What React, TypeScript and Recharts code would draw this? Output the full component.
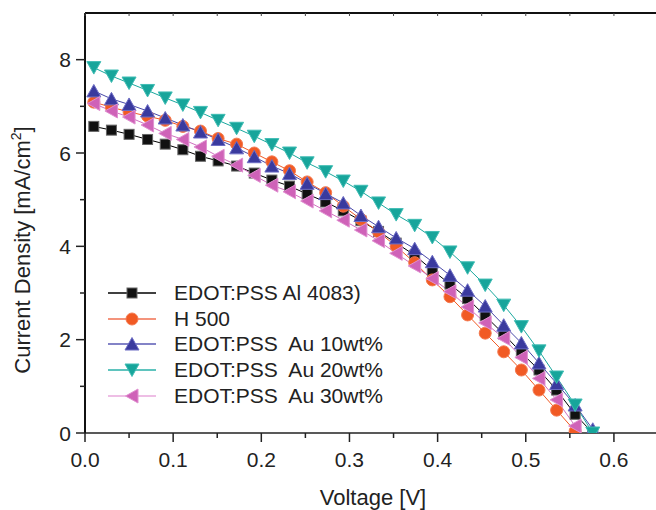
import React from "react";
import { LineChart, Line, XAxis, YAxis, Legend } from "recharts";

// voltage steps (V)
const voltage = [
  0.01, 0.03, 0.05, 0.071, 0.091, 0.111, 0.131, 0.151, 0.172, 0.192, 0.212,
  0.232, 0.252, 0.273, 0.293, 0.313, 0.333, 0.353, 0.374, 0.394, 0.414, 0.434,
  0.454, 0.475, 0.495, 0.515, 0.535, 0.556, 0.576,
];

// current density (mA/cm2) for each device
const al4083 = [
  6.57, 6.49, 6.4, 6.29, 6.19, 6.07, 5.93, 5.83, 5.72, 5.57, 5.42, 5.29, 5.12,
  4.95, 4.76, 4.55, 4.32, 4.07, 3.81, 3.49, 3.19, 2.88, 2.51, 2.12, 1.72, 1.35,
  0.92, 0.4, 0.0,
];
const h500 = [
  7.09, 6.98, 6.88, 6.79, 6.7, 6.57, 6.47, 6.31, 6.19, 6.0, 5.81, 5.62, 5.38,
  5.15, 4.86, 4.58, 4.31, 4.0, 3.65, 3.28, 2.92, 2.53, 2.14, 1.74, 1.35, 0.92,
  0.49, 0.04,
];
const au10 = [
  7.33, 7.16, 7.04, 6.9, 6.75, 6.6, 6.45, 6.29, 6.11, 5.92, 5.72, 5.56, 5.35,
  5.13, 4.93, 4.66, 4.42, 4.18, 3.95, 3.67, 3.38, 3.06, 2.72, 2.31, 1.93, 1.5,
  1.06, 0.6, 0.08,
];
const au20 = [
  7.83, 7.65, 7.5, 7.34, 7.18, 7.03, 6.87, 6.7, 6.53, 6.36, 6.18, 6.0, 5.79,
  5.6, 5.4, 5.18, 4.93, 4.68, 4.45, 4.19, 3.88, 3.54, 3.17, 2.74, 2.28, 1.76,
  1.2, 0.6, 0.0,
];
const au30 = [
  7.06, 6.9, 6.77, 6.6, 6.42, 6.29, 6.13, 5.93, 5.74, 5.52, 5.31, 5.17, 4.97,
  4.76, 4.56, 4.35, 4.12, 3.85, 3.58, 3.31, 3.03, 2.7, 2.36, 2.03, 1.62, 1.17,
  0.71, 0.15,
];

const seriesNames = [
  "EDOT:PSS Al 4083)",
  "H 500",
  "EDOT:PSS  Au 10wt%",
  "EDOT:PSS  Au 20wt%",
  "EDOT:PSS  Au 30wt%",
];

const xTicks = [0, 0.05, 0.1, 0.15, 0.2, 0.25, 0.3, 0.35, 0.4, 0.45, 0.5, 0.55, 0.6];
const yTicks = [0, 1, 2, 3, 4, 5, 6, 7, 8];

const data = voltage.map((v, i) => ({
  v,
  s0: al4083[i],
  s1: h500[i],
  s2: au10[i],
  s3: au20[i],
  s4: au30[i],
}));

const FONT = "'Liberation Sans', Arial, Helvetica, sans-serif";

const STYLES = [
  { key: "s0", shape: "square", fill: "#111", stroke: "#666", line: "#000", legendLine: "#000" },
  { key: "s1", shape: "circle", fill: "#f15a24", stroke: "#f47a50", line: "#f15a24", legendLine: "#f07050" },
  { key: "s2", shape: "up", fill: "#3a3a9e", stroke: "#6c6cc4", line: "#4848a8", legendLine: "#5a5ab4" },
  { key: "s3", shape: "down", fill: "#17a59b", stroke: "#40bdb4", line: "#1aa89e", legendLine: "#2ab0a8" },
  { key: "s4", shape: "left", fill: "#cf62b8", stroke: "#e090d0", line: "#d070c0", legendLine: "#e8a8dc" },
];

function Marker({ shape, cx, cy, fill, stroke }: any) {
  if (shape === "square") {
    return <rect x={cx - 5} y={cy - 5} width={10} height={10} fill={fill} stroke={stroke} strokeWidth={1} />;
  }
  if (shape === "circle") {
    return <circle cx={cx} cy={cy} r={6} fill={fill} stroke={stroke} strokeWidth={1} />;
  }
  let pts = "";
  if (shape === "up") pts = `${cx},${cy - 6.5} ${cx + 7},${cy + 6} ${cx - 7},${cy + 6}`;
  if (shape === "down") pts = `${cx - 7},${cy - 6} ${cx + 7},${cy - 6} ${cx},${cy + 6.5}`;
  if (shape === "left") pts = `${cx - 6.5},${cy} ${cx + 6},${cy - 7} ${cx + 6},${cy + 7}`;
  return <polygon points={pts} fill={fill} stroke={stroke} strokeWidth={1} />;
}

const makeDot = (st: any) => (props: any) => {
  const { cx, cy, index, value } = props;
  if (cx == null || cy == null || value == null) return <g key={`d-${st.key}-${index}`} />;
  return (
    <g key={`d-${st.key}-${index}`}>
      <Marker shape={st.shape} cx={cx} cy={cy} fill={st.fill} stroke={st.stroke} />
    </g>
  );
};

const XTick = (props: any) => {
  const { x, y, payload } = props;
  const v = payload.value;
  const major = Math.round(v * 100) % 10 === 0;
  return (
    <g>
      <line x1={x} x2={x} y1={y} y2={y + (major ? 9 : 5)} stroke="#222" strokeWidth={1.5} />
      {major && (
        <text x={x} y={y + 34} textAnchor="middle" fontSize={21} fontFamily={FONT} fill="#222">
          {v.toFixed(1)}
        </text>
      )}
    </g>
  );
};

const TopTick = (props: any) => {
  const { x, y } = props;
  return <line x1={x} x2={x} y1={y} y2={y + 3} stroke="#444" strokeWidth={1} />;
};

const YTick = (props: any) => {
  const { x, y, payload } = props;
  const v = payload.value;
  const major = v % 2 === 0;
  return (
    <g>
      <line x1={x - (major ? 9 : 5)} x2={x} y1={y} y2={y} stroke="#222" strokeWidth={1.5} />
      {major && (
        <text x={x - 14} y={y + 7.5} textAnchor="end" fontSize={21} fontFamily={FONT} fill="#222">
          {v}
        </text>
      )}
    </g>
  );
};

const YTitle = () => (
  <text
    x={30}
    y={250}
    transform="rotate(-90, 30, 250)"
    textAnchor="middle"
    fontSize={22}
    fontFamily={FONT}
    fill="#222"
  >
    Current Density [mA/cm
    <tspan fontSize={14} dy={-9}>2</tspan>
    <tspan dy={9}>]</tspan>
  </text>
);

const XTitle = () => (
  <text x={373} y={505} textAnchor="middle" fontSize={22} fontFamily={FONT} fill="#222">
    Voltage [V]
  </text>
);

const renderLegend = () => (
  <div style={{ fontFamily: FONT, fontSize: 21, color: "#222" }}>
    {STYLES.map((st, i) => (
      <div key={st.key} style={{ display: "flex", alignItems: "center", height: 25.7 }}>
        <svg width={48} height={20} style={{ display: "block" }}>
          <line x1={0} x2={48} y1={10} y2={10} stroke={st.legendLine} strokeWidth={1.5} />
          <Marker shape={st.shape} cx={24} cy={10} fill={st.fill} stroke={st.stroke} />
        </svg>
        <span style={{ marginLeft: 18, whiteSpace: "pre", lineHeight: "25.7px" }}>{seriesNames[i]}</span>
      </div>
    ))}
  </div>
);

export default function App() {
  return (
    <div
      style={{
        position: "absolute",
        left: 0,
        top: 0,
        width: 656,
        height: 510,
        overflow: "hidden",
        background: "#fff",
        fontFamily: FONT,
      }}
    >
      <LineChart width={672} height={510} data={data} margin={{ top: 12, right: 14, left: 0, bottom: 0 }}>
        <XAxis
          dataKey="v"
          type="number"
          domain={[0, 0.65]}
          ticks={xTicks}
          interval={0}
          allowDataOverflow
          height={77}
          tickSize={0}
          tickMargin={0}
          tickLine={false}
          tick={XTick}
          axisLine={{ stroke: "#222", strokeWidth: 1.5 }}
          label={<XTitle />}
        />
        <XAxis
          xAxisId="top"
          orientation="top"
          dataKey="v"
          type="number"
          domain={[0, 0.65]}
          ticks={xTicks}
          interval={0}
          height={1}
          tickSize={0}
          tickMargin={0}
          tickLine={false}
          tick={TopTick}
          axisLine={{ stroke: "#111", strokeWidth: 2 }}
        />
        <YAxis
          type="number"
          domain={[0, 9]}
          ticks={yTicks}
          interval={0}
          allowDataOverflow
          width={85}
          tickSize={0}
          tickMargin={0}
          tickLine={false}
          tick={YTick}
          axisLine={{ stroke: "#111", strokeWidth: 2 }}
          label={<YTitle />}
        />
        <Legend
          layout="vertical"
          align="center"
          verticalAlign="middle"
          content={renderLegend}
          wrapperStyle={{ left: 108, top: 280, width: "auto", height: "auto" }}
        />
        {STYLES.map((st, i) => (
          <Line
            key={st.key}
            dataKey={st.key}
            name={seriesNames[i]}
            type="linear"
            stroke={st.line}
            strokeWidth={1}
            dot={makeDot(st)}
            activeDot={false}
            isAnimationActive={false}
          />
        ))}
      </LineChart>
    </div>
  );
}
